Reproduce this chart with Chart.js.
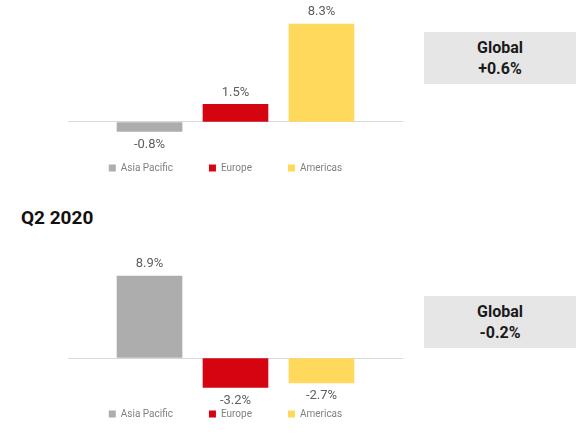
<!DOCTYPE html>
<html>
<head>
<meta charset="utf-8">
<script src="https://cdn.jsdelivr.net/npm/chart.js@4.4.1/dist/chart.umd.min.js"></script>
<style>
  body { margin: 0; background: #fff; font-family: Roboto, sans-serif; }
  #page { position: relative; width: 582px; height: 434px; overflow: hidden; }
  canvas { position: absolute; left: 0; }
  #chartQ1 { top: 0; }
  #chartQ2 { top: 249px; }
  .global {
    position: absolute; left: 424px; width: 152px; height: 52px;
    background: #e6e6e6; color: #1a1a1a;
    font-weight: bold; font-size: 16px; line-height: 21px; text-align: center;
    display: flex; flex-direction: column; justify-content: center;
  }
  #globalQ1 { top: 32px; }
  #globalQ2 { top: 296px; }
  #titleQ2 { position: absolute; left: 21px; top: 208px; font-size: 19px; line-height: 19px; font-weight: bold; color: #111; }
</style>
</head>
<body>
<div id="page">
  <canvas id="chartQ1" width="403" height="183"></canvas>
  <div class="global" id="globalQ1"></div>
  <div id="titleQ2">Q2 2020</div>
  <canvas id="chartQ2" width="403" height="180"></canvas>
  <div class="global" id="globalQ2"></div>
</div>
<script>
const regions = ['Asia Pacific', 'Europe', 'Americas'];
const regionColors = ['#adadad', '#d40511', '#ffd95c'];
const q1Values = [-0.8, 1.5, 8.3];
const q2Values = [8.9, -3.2, -2.7];
const globalValues = ['+0.6%', '-0.2%'];

Chart.defaults.font.family = 'Roboto';

// draws the % value above (or below) each bar
const valueLabels = {
  id: 'valueLabels',
  afterDatasetsDraw(chart) {
    const ctx = chart.ctx;
    ctx.save();
    ctx.font = '13px Roboto';
    ctx.fillStyle = '#5f5f5f';
    ctx.textAlign = 'center';
    ctx.textBaseline = 'middle';
    chart.data.datasets.forEach((ds, i) => {
      chart.getDatasetMeta(i).data.forEach((bar, j) => {
        const v = ds.data[j].y;
        const y = v >= 0 ? bar.y - 12 : bar.y + 13;
        ctx.fillText(v.toFixed(1) + '%', bar.x, y);
      });
    });
    ctx.restore();
  }
};

function makeChart(id, values, yMin, yMax) {
  const ctx = document.getElementById(id).getContext('2d');
  return new Chart(ctx, {
    type: 'bar',
    data: {
      datasets: regions.map((name, i) => ({
        label: name,
        data: [{ x: i, y: values[i] }],
        backgroundColor: regionColors[i],
        borderWidth: 0,
        grouped: false,
        clip: false,
        barPercentage: 1,
        categoryPercentage: 1,
        maxBarThickness: 65
      }))
    },
    options: {
      responsive: false,
      animation: false,
      layout: { padding: { left: 48, top: 10, right: 0, bottom: 0 } },
      scales: {
        x: { type: 'linear', display: false, offset: false, min: -0.948, max: 2.948, ticks: { stepSize: 1 } },
        y: {
          min: yMin,
          max: yMax,
          ticks: { display: false },
          border: { display: false },
          grid: { drawTicks: false, color: '#d9d9d9', lineWidth: 1 },
          afterBuildTicks: scale => { scale.ticks = [{ value: 0 }]; },
          afterFit: scale => { scale.width = 20; }
        }
      },
      plugins: {
        legend: {
          position: 'bottom',
          labels: { boxWidth: 7, boxHeight: 7, padding: 36, color: '#808080', font: { size: 10 } }
        },
        tooltip: { enabled: false }
      }
    },
    plugins: [valueLabels]
  });
}

makeChart('chartQ1', q1Values, -0.424, 9.49);
makeChart('chartQ2', q2Values, -1.63, 10.76);

document.getElementById('globalQ1').innerHTML = 'Global<br>' + globalValues[0];
document.getElementById('globalQ2').innerHTML = 'Global<br>' + globalValues[1];
</script>
</body>
</html>
